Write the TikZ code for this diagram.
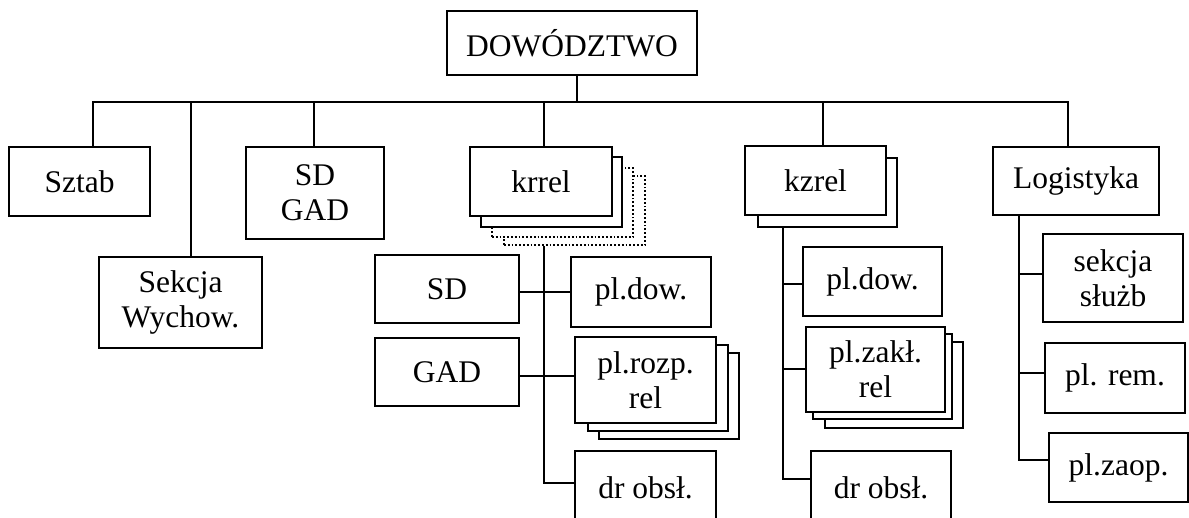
\documentclass[tikz,border=0pt]{standalone}
\usepackage{fontspec}
\setmainfont{Liberation Serif}
\tikzset{
  box/.style={draw, line width=1.8pt, fill=white, inner sep=0pt, align=center,
              font=\fontsize{31.5}{35}\selectfont},
  backbox/.style={draw, line width=1.8pt, fill=white, inner sep=0pt},
  dotbox/.style={backbox, dotted},
  conn/.style={line width=1.8pt}
}
\begin{document}
\begin{tikzpicture}[x=1pt,y=-1pt]
\clip (0,0) rectangle (1189,518);
\fill[white] (0,0) rectangle (1189,518);

% top
\node[box, minimum width=250pt, minimum height=64pt] (dow) at (572,43) {DOWÓDZTWO};

% first level
\node[box, minimum width=141pt, minimum height=69pt] (sztab) at (79.5,181.5) {Sztab};
\node[box, minimum width=163pt, minimum height=91pt] (sekcja) at (180.5,302.5) {Sekcja\\Wychow.};
\node[box, minimum width=138pt, minimum height=92pt] (sdgad) at (315,193) {SD\\GAD};

\node[dotbox, minimum width=141pt, minimum height=69pt] (krrel4) at (574.5,210.5) {};
\node[dotbox, minimum width=141pt, minimum height=69pt] (krrel3) at (562.5,202.5) {};
\node[backbox, minimum width=141pt, minimum height=70pt] (krrel2) at (551.5,192) {};
\node[box, minimum width=142pt, minimum height=69pt] (krrel) at (541,181.5) {krrel};

\node[backbox, minimum width=139pt, minimum height=69pt] (kzrel2) at (827.5,192.5) {};
\node[box, minimum width=141pt, minimum height=69pt] (kzrel) at (815.5,180.5) {kzrel};

\node[box, minimum width=166pt, minimum height=68pt] (logi) at (1076,181) {Logistyka};

% krrel group
\node[box, minimum width=144pt, minimum height=68pt] (sdk) at (447,289) {SD};
\node[box, minimum width=144pt, minimum height=68pt] (gadk) at (447,372) {GAD};
\node[box, minimum width=140pt, minimum height=70pt] (pldowA) at (641,292) {pl.dow.};
\node[backbox, minimum width=140pt, minimum height=86pt] (plrozA3) at (669,396) {};
\node[backbox, minimum width=140pt, minimum height=86pt] (plrozA2) at (658,388) {};
\node[box, minimum width=141pt, minimum height=86pt] (plrozA) at (645.5,380) {pl.rozp.\\rel};
\node[box, minimum width=141pt, minimum height=74pt] (drA) at (645.5,488) {dr obsł.};

% kzrel group
\node[box, minimum width=139pt, minimum height=69pt] (pldowB) at (872.5,281.5) {pl.dow.};
\node[backbox, minimum width=138pt, minimum height=86pt] (plzakB3) at (894,385) {};
\node[backbox, minimum width=139pt, minimum height=85pt] (plzakB2) at (882.5,376.5) {};
\node[box, minimum width=139pt, minimum height=85pt] (plzakB) at (875.5,369.5) {pl.zakł.\\rel};
\node[box, minimum width=140pt, minimum height=74pt] (drB) at (881,488) {dr obsł.};

% logistyka group
\node[box, minimum width=140pt, minimum height=88pt] (sluzb) at (1113,278) {sekcja\\służb};
\node[box, minimum width=140pt, minimum height=70pt] (plrem) at (1115,378) {pl. rem.};
\node[box, minimum width=139pt, minimum height=69pt] (plzaop) at (1118.5,467.5) {pl.zaop.};

% bus coordinates
\coordinate (b0) at (577,102);
\coordinate (b1) at (93,102);
\coordinate (b2) at (191,102);
\coordinate (b3) at (314,102);
\coordinate (b4) at (544,102);
\coordinate (b5) at (823,102);
\coordinate (b6) at (1068,102);
\coordinate (kz) at (783,0);
\coordinate (lg) at (1019,0);

% connectors
\draw[conn] (dow.south -| b0) -- (b0);
\draw[conn] (sztab.north -| b1) -- (b1) -- (b6) -- (logi.north -| b6);
\draw[conn] (b2) -- (sekcja.north -| b2);
\draw[conn] (b3) -- (sdgad.north -| b3);
\draw[conn] (b4) -- (krrel.north -| b4);
\draw[conn] (b5) -- (kzrel.north -| b5);

\draw[conn] (krrel4.south -| b4) |- ([yshift=5pt]drA.west);
\draw[conn] (sdk.east |- pldowA.west) -- (pldowA.west);
\draw[conn] ([yshift=-4pt]gadk.east) -- ([yshift=-4pt]gadk.east -| plrozA.west);

\draw[conn] (kzrel2.south -| kz) |- ([yshift=9pt]drB.west);
\draw[conn] ([yshift=-2.5pt]pldowB.west -| kz) -- ([yshift=-2.5pt]pldowB.west);
\draw[conn] ([yshift=0.5pt]plzakB.west -| kz) -- ([yshift=0.5pt]plzakB.west);

\draw[conn] (logi.south -| lg) |- ([yshift=7.5pt]plzaop.west);
\draw[conn] ([yshift=4pt]sluzb.west -| lg) -- ([yshift=4pt]sluzb.west);
\draw[conn] ([yshift=5pt]plrem.west -| lg) -- ([yshift=5pt]plrem.west);
\end{tikzpicture}
\end{document}
